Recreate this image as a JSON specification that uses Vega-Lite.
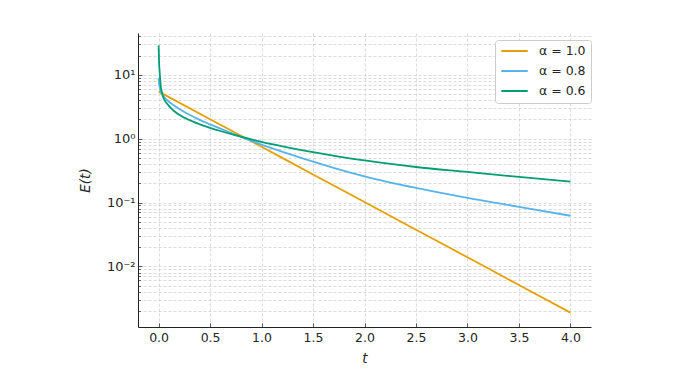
{
  "$schema": "https://vega.github.io/schema/vega-lite/v6.json",
  "width": 453,
  "height": 294,
  "autosize": {"type": "none"},
  "padding": {"left": 138, "top": 33, "right": 86, "bottom": 63},
  "background": "white",
  "config": {
    "view": {"stroke": null},
    "font": "DejaVu Sans",
    "axis": {"labelFont": "DejaVu Sans", "titleFont": "DejaVu Sans", "labelColor": "#262626", "titleColor": "#262626"}
  },
  "datasets": {
    "curves": [
      {"t": 0.0, "E": 5.48, "alpha": "1.0"},
      {"t": 0.5, "E": 2.02, "alpha": "1.0"},
      {"t": 1.0, "E": 0.746, "alpha": "1.0"},
      {"t": 1.5, "E": 0.275, "alpha": "1.0"},
      {"t": 2.0, "E": 0.1016, "alpha": "1.0"},
      {"t": 2.5, "E": 0.0375, "alpha": "1.0"},
      {"t": 3.0, "E": 0.01384, "alpha": "1.0"},
      {"t": 3.5, "E": 0.0051, "alpha": "1.0"},
      {"t": 4.0, "E": 0.00188, "alpha": "1.0"},
      {"t": 0.0, "E": 8.98, "alpha": "0.8"},
      {"t": 0.005, "E": 7.2, "alpha": "0.8"},
      {"t": 0.01, "E": 6.45, "alpha": "0.8"},
      {"t": 0.02, "E": 5.6, "alpha": "0.8"},
      {"t": 0.03, "E": 5.13, "alpha": "0.8"},
      {"t": 0.05, "E": 4.57, "alpha": "0.8"},
      {"t": 0.075, "E": 4.12, "alpha": "0.8"},
      {"t": 0.1, "E": 3.8, "alpha": "0.8"},
      {"t": 0.15, "E": 3.31, "alpha": "0.8"},
      {"t": 0.2, "E": 2.92, "alpha": "0.8"},
      {"t": 0.3, "E": 2.37, "alpha": "0.8"},
      {"t": 0.4, "E": 1.97, "alpha": "0.8"},
      {"t": 0.5, "E": 1.68, "alpha": "0.8"},
      {"t": 0.6, "E": 1.44, "alpha": "0.8"},
      {"t": 0.75, "E": 1.15, "alpha": "0.8"},
      {"t": 0.9, "E": 0.927, "alpha": "0.8"},
      {"t": 1.0, "E": 0.807, "alpha": "0.8"},
      {"t": 1.25, "E": 0.589, "alpha": "0.8"},
      {"t": 1.5, "E": 0.437, "alpha": "0.8"},
      {"t": 1.75, "E": 0.331, "alpha": "0.8"},
      {"t": 2.0, "E": 0.257, "alpha": "0.8"},
      {"t": 2.5, "E": 0.169, "alpha": "0.8"},
      {"t": 3.0, "E": 0.118, "alpha": "0.8"},
      {"t": 3.5, "E": 0.0855, "alpha": "0.8"},
      {"t": 4.0, "E": 0.062, "alpha": "0.8"},
      {"t": 0.0, "E": 29.0, "alpha": "0.6"},
      {"t": 0.005, "E": 15.1, "alpha": "0.6"},
      {"t": 0.01, "E": 11.4, "alpha": "0.6"},
      {"t": 0.02, "E": 6.9, "alpha": "0.6"},
      {"t": 0.03, "E": 5.5, "alpha": "0.6"},
      {"t": 0.05, "E": 4.27, "alpha": "0.6"},
      {"t": 0.075, "E": 3.67, "alpha": "0.6"},
      {"t": 0.1, "E": 3.27, "alpha": "0.6"},
      {"t": 0.15, "E": 2.72, "alpha": "0.6"},
      {"t": 0.2, "E": 2.37, "alpha": "0.6"},
      {"t": 0.3, "E": 1.95, "alpha": "0.6"},
      {"t": 0.4, "E": 1.68, "alpha": "0.6"},
      {"t": 0.5, "E": 1.48, "alpha": "0.6"},
      {"t": 0.6, "E": 1.32, "alpha": "0.6"},
      {"t": 0.75, "E": 1.127, "alpha": "0.6"},
      {"t": 0.9, "E": 0.977, "alpha": "0.6"},
      {"t": 1.0, "E": 0.89, "alpha": "0.6"},
      {"t": 1.25, "E": 0.733, "alpha": "0.6"},
      {"t": 1.5, "E": 0.614, "alpha": "0.6"},
      {"t": 1.75, "E": 0.525, "alpha": "0.6"},
      {"t": 2.0, "E": 0.458, "alpha": "0.6"},
      {"t": 2.5, "E": 0.36, "alpha": "0.6"},
      {"t": 3.0, "E": 0.301, "alpha": "0.6"},
      {"t": 3.5, "E": 0.252, "alpha": "0.6"},
      {"t": 4.0, "E": 0.213, "alpha": "0.6"}
    ],
    "minor": [
      {"v": 0.002}, {"v": 0.003}, {"v": 0.004}, {"v": 0.005}, {"v": 0.006}, {"v": 0.007}, {"v": 0.008}, {"v": 0.009},
      {"v": 0.02}, {"v": 0.03}, {"v": 0.04}, {"v": 0.05}, {"v": 0.06}, {"v": 0.07}, {"v": 0.08}, {"v": 0.09},
      {"v": 0.2}, {"v": 0.3}, {"v": 0.4}, {"v": 0.5}, {"v": 0.6}, {"v": 0.7}, {"v": 0.8}, {"v": 0.9},
      {"v": 2}, {"v": 3}, {"v": 4}, {"v": 5}, {"v": 6}, {"v": 7}, {"v": 8}, {"v": 9},
      {"v": 20}, {"v": 30}, {"v": 40}
    ]
  },
  "layer": [
    {
      "data": {"name": "minor"},
      "mark": {"type": "rule", "opacity": 0},
      "encoding": {
        "y": {
          "field": "v", "type": "quantitative",
          "scale": {"type": "log", "domain": [0.00112, 45.3], "nice": false},
          "axis": {
            "orient": "left",
            "values": [0.002, 0.003, 0.004, 0.005, 0.006, 0.007, 0.008, 0.009, 0.02, 0.03, 0.04, 0.05, 0.06, 0.07, 0.08, 0.09, 0.2, 0.3, 0.4, 0.5, 0.6, 0.7, 0.8, 0.9, 2, 3, 4, 5, 6, 7, 8, 9, 20, 30, 40],
            "labels": false, "title": null, "domain": false,
            "ticks": true, "tickSize": -2.5, "tickColor": "#333333", "tickWidth": 0.7,
            "grid": true, "gridColor": "#cccccc", "gridDash": [3, 2], "gridWidth": 0.7
          }
        }
      }
    },
    {
      "data": {"name": "curves"},
      "mark": {"type": "line", "strokeWidth": 1.8, "interpolate": "monotone"},
      "encoding": {
        "x": {
          "field": "t", "type": "quantitative",
          "scale": {"domain": [-0.2, 4.2], "nice": false, "zero": false},
          "axis": {
            "values": [0, 0.5, 1, 1.5, 2, 2.5, 3, 3.5, 4],
            "format": ".1f",
            "title": "t", "titleFontStyle": "italic", "titleFontWeight": "normal", "titleFontSize": 13.5,
            "titlePadding": 8,
            "labelFontSize": 12.5, "labelPadding": 8,
            "tickSize": -4, "tickColor": "#333333", "tickWidth": 0.8,
            "domainColor": "#222222", "domainWidth": 1,
            "grid": true, "gridColor": "#cccccc", "gridDash": [3, 2], "gridWidth": 0.7
          }
        },
        "y": {
          "field": "E", "type": "quantitative",
          "scale": {"type": "log", "domain": [0.00112, 45.3], "nice": false},
          "axis": {
            "orient": "left",
            "values": [0.01, 0.1, 1, 10],
            "labelExpr": "datum.value >= 5 ? '10¹' : datum.value >= 0.5 ? '10⁰' : datum.value >= 0.05 ? '10⁻¹' : '10⁻²'",
            "title": "E(t)", "titleFontStyle": "italic", "titleFontWeight": "normal", "titleFontSize": 13.5,
            "titlePadding": 14,
            "labelFontSize": 13, "labelPadding": 7,
            "tickSize": -4, "tickColor": "#333333", "tickWidth": 0.8,
            "domainColor": "#222222", "domainWidth": 1,
            "grid": true, "gridColor": "#cccccc", "gridDash": [3, 2], "gridWidth": 0.7
          }
        },
        "color": {
          "field": "alpha", "type": "nominal",
          "scale": {"domain": ["1.0", "0.8", "0.6"], "range": ["#E69F00", "#56B4E9", "#009E73"]},
          "legend": {
            "title": null,
            "orient": "none", "legendX": 357, "legendY": 7,
            "labelExpr": "'α = ' + datum.label",
            "labelFont": "DejaVu Sans", "labelFontSize": 12.5, "labelColor": "#262626",
            "symbolType": "stroke", "symbolStrokeWidth": 2, "symbolSize": 700,
            "clipHeight": 12,
            "labelOffset": 10, "rowPadding": 7,
            "padding": 5, "fillColor": "white", "strokeColor": "#cccccc", "cornerRadius": 3
          }
        }
      }
    }
  ],
  "resolve": {"axis": {"y": "independent"}}
}
